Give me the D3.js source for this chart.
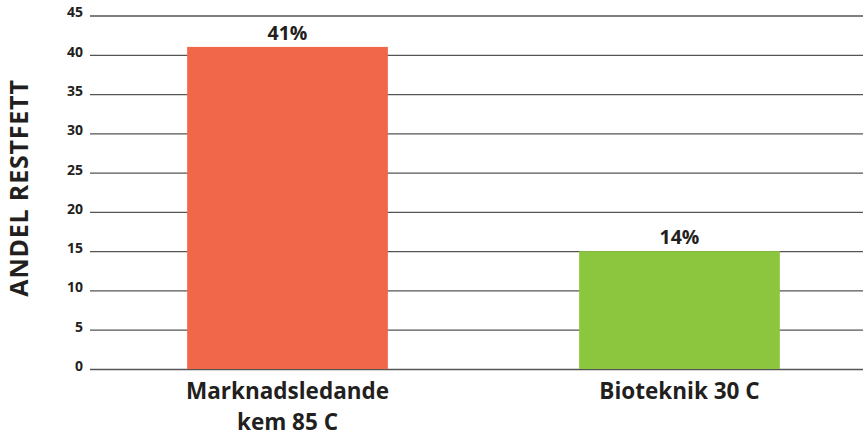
<!DOCTYPE html>
<html>
<head>
<meta charset="utf-8">
<script src="https://cdn.jsdelivr.net/npm/d3@7"></script>
<style>
body { margin: 0; background: #fff; }
text { font-family: "Open Sans", "Noto Sans", sans-serif; font-weight: bold; fill: #231f20; }
</style>
</head>
<body>
<svg id="chart" width="864" height="437"></svg>
<script>
// data
var categories = [["Marknadsledande", "kem 85 C"], ["Bioteknik 30 C"]];
var values = [41, 15];
var valueLabels = ["41%", "14%"];
var barColors = ["#f0674a", "#8cc63f"];
var yTicks = [0, 5, 10, 15, 20, 25, 30, 35, 40, 45];
var yTitle = "ANDEL RESTFETT";

var svg = d3.select("#chart"),
    gridLeft = 90, gridRight = 863;

var y = d3.scaleLinear().domain([0, 45]).range([369, 15.5]);
var x = d3.scaleBand()
    .domain(d3.range(values.length))
    .range([97, 870])
    .paddingInner(0.488)
    .paddingOuter(0.23);

// gridlines + tick labels via axis
var yAxis = d3.axisLeft(y)
    .tickValues(yTicks)
    .tickSize(-(gridRight - gridLeft))
    .tickPadding(7);

var gy = svg.append("g")
    .attr("transform", "translate(" + gridLeft + ",0)")
    .call(yAxis);
gy.attr("font-size", null).attr("font-family", null);
gy.select(".domain").remove();
gy.selectAll(".tick line").attr("stroke", "#555").attr("stroke-width", 1.3);
gy.selectAll(".tick text")
    .style("font-size", "14px")
    .attr("x", -7)
    .attr("dy", "0.1em");

// bars
svg.selectAll("rect.bar")
    .data(values).enter()
    .append("rect")
    .attr("class", "bar")
    .attr("x", function(d, i){ return x(i); })
    .attr("width", x.bandwidth())
    .attr("y", function(d){ return y(d); })
    .attr("height", function(d){ return y(0) - y(d); })
    .attr("fill", function(d, i){ return barColors[i]; });

// value labels
svg.selectAll("text.val")
    .data(values).enter()
    .append("text")
    .attr("class", "val")
    .attr("x", function(d, i){ return x(i) + x.bandwidth() / 2; })
    .attr("y", function(d){ return y(d) - 7; })
    .attr("text-anchor", "middle")
    .style("font-size", "19.5px")
    .text(function(d, i){ return valueLabels[i]; });

// category labels, one text per line
categories.forEach(function(lines, i){
  lines.forEach(function(line, j){
    svg.append("text")
        .attr("class", "cat")
        .attr("text-anchor", "middle")
        .style("font-size", "22.5px")
        .attr("x", x(i) + x.bandwidth() / 2)
        .attr("y", 399 + j * 31)
        .text(line);
  });
});

// y title
svg.append("text")
    .attr("transform", "translate(28,188) rotate(-90)")
    .attr("text-anchor", "middle")
    .style("font-size", "25px")
    .style("letter-spacing", "0.8px")
    .text(yTitle);
</script>
</body>
</html>
